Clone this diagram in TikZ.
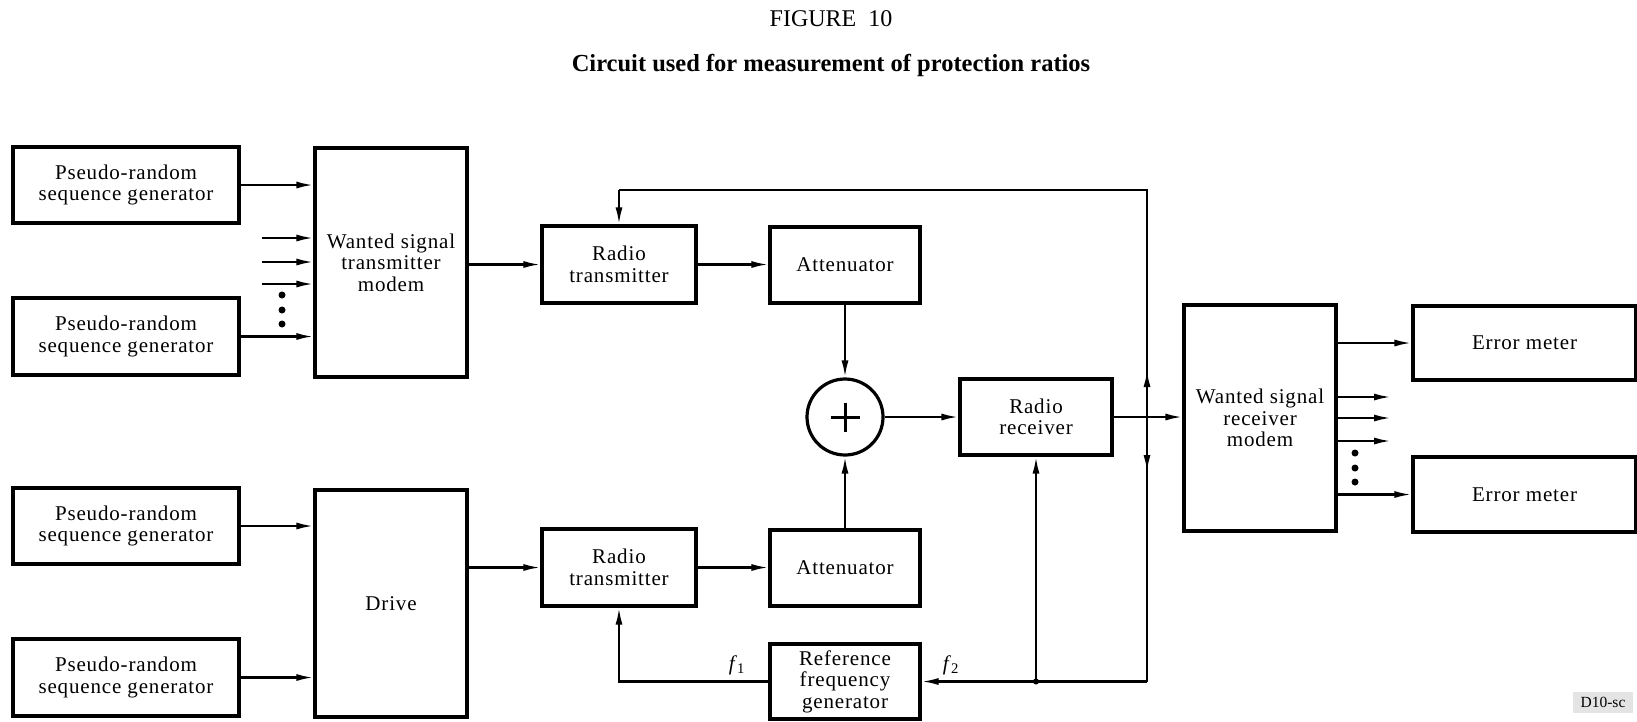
\documentclass[tikz,border=0pt]{standalone}
\usepackage{fontspec}
\setmainfont{Liberation Serif}
\usetikzlibrary{arrows.meta,calc}
\newcommand\bxfont{\fontsize{21}{21.5}\selectfont\addfontfeature{LetterSpace=4}}
\definecolor{taggrey}{HTML}{E4E4E4}
\begin{document}
\begin{tikzpicture}[x=1pt,y=-1pt,
  blk/.style={draw, line width=3.2pt, align=center, inner sep=0pt, font=\bxfont},
  conn/.style={line width=2.2pt},
  arr/.style={conn, -{Latex[length=17pt,width=7pt]}},
  dotm/.style={circle, fill, inner sep=0pt, minimum size=7pt},
  lbl/.style={inner sep=0pt, font=\fontsize{21}{22}\selectfont}
]
\useasboundingbox (0,0) rectangle (1637,721);

% titles
\node[lbl, font=\fontsize{24}{26}\selectfont] (title) at (831,19) {FIGURE\ \ 10};
\node[lbl, font=\fontsize{24.5}{26}\selectfont\bfseries] (sub) at (831,65) {Circuit used for measurement of protection ratios};

% left blocks
\node[blk, minimum width=226pt, minimum height=76pt] (prg1) at (126,185) {Pseudo-random\\sequence generator};
\node[blk, minimum width=226pt, minimum height=77pt] (prg2) at (126,336.5) {Pseudo-random\\sequence generator};
\node[blk, minimum width=226pt, minimum height=76pt] (prg3) at (126,526) {Pseudo-random\\sequence generator};
\node[blk, minimum width=226pt, minimum height=77pt] (prg4) at (126,677.5) {Pseudo-random\\sequence generator};
\node[blk, minimum width=152pt, minimum height=229pt] (wstm) at (391,262.5) {Wanted signal\\transmitter\\modem};
\node[blk, minimum width=152pt, minimum height=227pt] (drive) at (391,603.5) {Drive};

% middle blocks
\node[blk, minimum width=154pt, minimum height=77pt] (rt1) at (619,264.5) {Radio\\transmitter};
\node[blk, minimum width=150pt, minimum height=76pt] (att1) at (845,265) {Attenuator};
\node[blk, circle, minimum size=76pt] (sum) at (845,417) {};
\draw[line width=3pt] ($(sum.center)+(-14.5,0)$) -- ($(sum.center)+(14.5,0)$)
                      ($(sum.center)+(0,-14.5)$) -- ($(sum.center)+(0,14.5)$);
\node[blk, minimum width=152pt, minimum height=76pt] (rx) at (1036,417) {Radio\\receiver};
\node[blk, minimum width=154pt, minimum height=77pt] (rt2) at (619,567.5) {Radio\\transmitter};
\node[blk, minimum width=150pt, minimum height=76pt] (att2) at (845,568) {Attenuator};
\node[blk, minimum width=150pt, minimum height=75pt] (ref) at (845,681.5) {Reference\\frequency\\generator};

% right blocks
\node[blk, minimum width=152pt, minimum height=226pt] (wsrm) at (1260,418) {Wanted signal\\receiver\\modem};
\node[blk, minimum width=223pt, minimum height=74pt] (em1) at (1524.5,343) {Error meter};
\node[blk, minimum width=223pt, minimum height=75pt] (em2) at (1524.5,494.5) {Error meter};

% inputs to wanted signal transmitter modem
\draw[arr] (prg1.east) -- (prg1.east -| wstm.west);
\coordinate (in1) at (262,238);
\coordinate (in2) at (262,262);
\coordinate (in3) at (262,284);
\draw[arr] (in1) -- (in1 -| wstm.west);
\draw[arr] (in2) -- (in2 -| wstm.west);
\draw[arr] (in3) -- (in3 -| wstm.west);
\node[dotm] (ld1) at (282,295) {};
\node[dotm] (ld2) at (282,310) {};
\node[dotm] (ld3) at (282,324) {};
\draw[arr] (prg2.east) -- (prg2.east -| wstm.west);

% inputs to drive
\draw[arr] (prg3.east) -- (prg3.east -| drive.west);
\draw[arr] (prg4.east) -- (prg4.east -| drive.west);

% transmit chains
\draw[arr] (wstm.east |- rt1.west) -- (rt1.west);
\draw[arr] (rt1.east) -- (rt1.east -| att1.west);
\draw[arr] (att1.south) -- (sum.north);
\draw[arr] (drive.east |- rt2.west) -- (rt2.west);
\draw[arr] (rt2.east) -- (rt2.east -| att2.west);
\draw[arr] (att2.north) -- (sum.south);
\draw[arr] (sum.east) -- (rx.west);
\draw[arr] (rx.east) -- (rx.east -| wsrm.west);

% reference frequency loop
\coordinate (vx) at (1147,417);
\coordinate (tr) at (1147,190);
\coordinate (tl) at (rt1.north |- tr);
\coordinate (br) at (1147,681.5);
\coordinate (ua) at (1147,370);
\coordinate (da) at (1147,472);
\draw[conn] (vx) -- (tr) -- (tl);
\draw[arr] (tl) -- (rt1.north);
\draw[arr] (vx) -- (ua);
\draw[conn] (vx) -- (br);
\draw[arr] (vx) -- (da);
\draw[arr] (br) -- (ref.east);
\coordinate (jn) at (rx.south |- br);
\node[dotm, minimum size=6pt] (jdot) at (jn) {};
\draw[arr] (jn) -- (rx.south);
\draw[arr] (ref.west) -- (rt2.south |- ref.west) -- (rt2.south);
\node[lbl] (f1) at (737,665) {\textit{f}\textsubscript{1}};
\node[lbl] (f2) at (951,665) {\textit{f}\textsubscript{2}};

% outputs of wanted signal receiver modem
\draw[arr] (wsrm.east |- em1.west) -- (em1.west);
\coordinate (s1) at (1391,397);
\coordinate (s2) at (1391,418);
\coordinate (s3) at (1391,441);
\draw[arr] (wsrm.east |- s1) -- (s1);
\draw[arr] (wsrm.east |- s2) -- (s2);
\draw[arr] (wsrm.east |- s3) -- (s3);
\node[dotm] (rd1) at (1355,453) {};
\node[dotm] (rd2) at (1355,468) {};
\node[dotm] (rd3) at (1355,482) {};
\draw[arr] (wsrm.east |- em2.west) -- (em2.west);

% tag
\node[fill=taggrey, minimum width=60pt, minimum height=21pt, inner sep=0pt,
      font=\fontsize{15.5}{16}\selectfont] (tag) at (1603,702) {D10-sc};
\end{tikzpicture}
\end{document}
